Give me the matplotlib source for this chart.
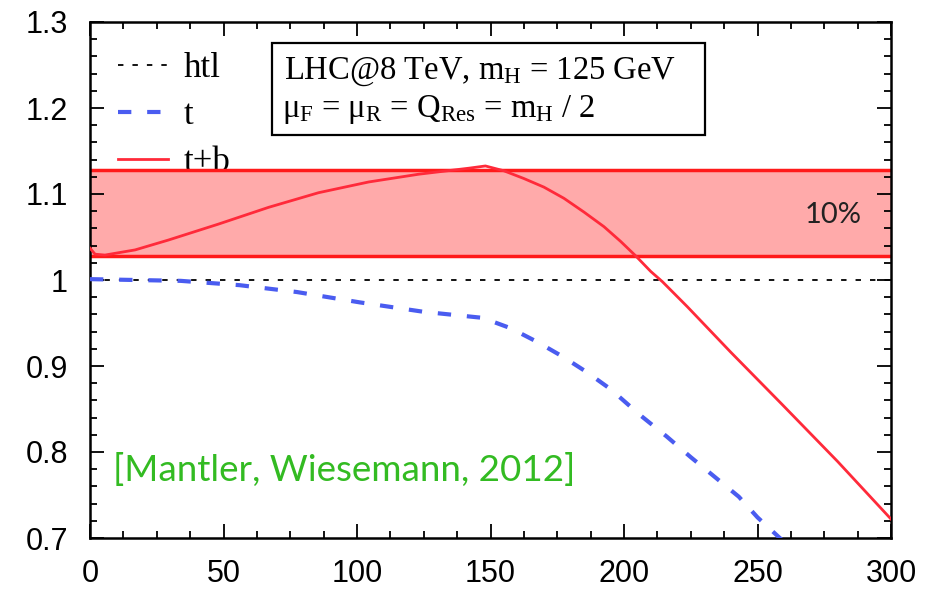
import matplotlib
matplotlib.use("Agg")
import matplotlib.pyplot as plt
from matplotlib.patches import Rectangle
from matplotlib.ticker import MultipleLocator

plt.rcParams['mathtext.fontset'] = 'custom'
plt.rcParams['mathtext.rm'] = 'Liberation Serif'
plt.rcParams['mathtext.it'] = 'Liberation Serif:italic'

# ---- data ----
htl_x = [0, 300]
htl_y = [1.0, 1.0]

t_x = [0, 34, 56, 77.5, 101, 125, 147, 157.5, 167.5, 177, 186, 195, 206, 216, 225, 234, 243, 250, 258, 262]
t_y = [1.001, 0.999, 0.994, 0.986, 0.974, 0.963, 0.956, 0.944, 0.928, 0.911, 0.893, 0.873, 0.843,
       0.818, 0.794, 0.771, 0.748, 0.724, 0.701, 0.690]

tb_x = [0, 1.9, 5.6, 16.9, 29.4, 48.1, 66.9, 85.6, 104.4, 123.1, 141.9, 148.1, 155, 162.5, 170,
        177.5, 185, 192.5, 198.7, 204.4, 210, 214.4, 223.7, 240, 259, 280, 300]
tb_y = [1.037, 1.030, 1.029, 1.035, 1.0465, 1.065, 1.0845, 1.1015, 1.114, 1.123, 1.130, 1.1326, 1.127,
        1.118, 1.108, 1.095, 1.079, 1.062, 1.045, 1.028, 1.010, 0.998, 0.969, 0.916, 0.856, 0.789, 0.722]

band_lo = 1.028
band_hi = 1.128

x_ticks = [0, 50, 100, 150, 200, 250, 300]
y_ticks = [0.7, 0.8, 0.9, 1.0, 1.1, 1.2, 1.3]
y_ticklabels = ['0.7', '0.8', '0.9', '1', '1.1', '1.2', '1.3']

fig = plt.figure(figsize=(9.30, 5.91), dpi=100)
ax = fig.add_axes([90/930, 1-538/591, 801/930, 516/591])

ax.set_xlim(0, 300)
ax.set_ylim(0.7, 1.3)

# band
ax.axhspan(band_lo, band_hi, facecolor='#ffaaaa', edgecolor='none', zorder=1)
ax.axhline(band_lo, color='#ff1a1a', lw=2.5, zorder=2)
ax.axhline(band_hi, color='#ff1a1a', lw=2.5, zorder=2)

l1, = ax.plot(htl_x, htl_y, color='black', lw=1.3, dashes=(3, 5), zorder=3, label='htl')
l2, = ax.plot(t_x, t_y, color='#4a5cf0', lw=3, dashes=(3.2, 3.8), zorder=3, label='t')
l3, = ax.plot(tb_x, tb_y, color='#ff2a3a', lw=2.0, zorder=4, label='t+b')

# ticks
ax.set_xticks(x_ticks)
ax.set_xticklabels(['0', '50', '100', '150', '200', '250', '300'])
ax.set_yticks(y_ticks)
ax.set_yticklabels(y_ticklabels)
ax.xaxis.set_minor_locator(MultipleLocator(12.5))
ax.yaxis.set_minor_locator(MultipleLocator(0.02))
ax.tick_params(which='both', direction='in', top=True, right=True, color='black', width=1.3)
ax.tick_params(which='major', length=10)
ax.tick_params(which='minor', length=5)
ax.tick_params(axis='x', which='major', pad=15)
ax.tick_params(axis='y', which='major', pad=16)
for lab in ax.get_xticklabels() + ax.get_yticklabels():
    lab.set_family('Liberation Sans')
    lab.set_fontsize(22)
for s in ax.spines.values():
    s.set_linewidth(1.8)

# legend (drawn beneath the band, as in the reference)
leg = ax.legend(handles=[l1, l2, l3], loc='upper left', bbox_to_anchor=((118-90)/801, (538-52)/516),
                frameon=False, prop={'family': 'Liberation Serif', 'size': 25},
                handlelength=1.45, handletextpad=0.45, labelspacing=0.4, borderaxespad=0.0,
                borderpad=0.0)
leg.set_zorder(0.5)

# info box
bx0, bx1 = (272-90)/801, (705-90)/801
by0, by1 = (538-135)/516, (538-43)/516
ax.add_patch(Rectangle((bx0, by0), bx1-bx0, by1-by0, transform=ax.transAxes,
                       facecolor='white', edgecolor='black', lw=1.6, zorder=6))
ax.text((284-90)/801, (538-72)/516, r'LHC@8 TeV, m$_\mathrm{H}$ = 125 GeV', transform=ax.transAxes,
        family='Liberation Serif', fontsize=23.5, va='center', ha='left', zorder=7)
ax.text((282-90)/801, (538-109)/516, r'μ$_\mathrm{F}$ = μ$_\mathrm{R}$ = Q$_\mathrm{Res}$ = m$_\mathrm{H}$ / 2',
        transform=ax.transAxes, family='Liberation Serif', fontsize=23.5, va='center', ha='left', zorder=7)

ax.text((862-90)/801, (538-215)/516, '10%', transform=ax.transAxes,
        family='Lato', fontsize=21, ha='right', va='center', color='#222222', zorder=7)
ax.text((113-90)/801, (538-470)/516, '[Mantler, Wiesemann, 2012]', transform=ax.transAxes,
        family='Lato', fontsize=26.5, ha='left', va='center', color='#33bb22', zorder=7)

fig.savefig('out.png', dpi=100)
